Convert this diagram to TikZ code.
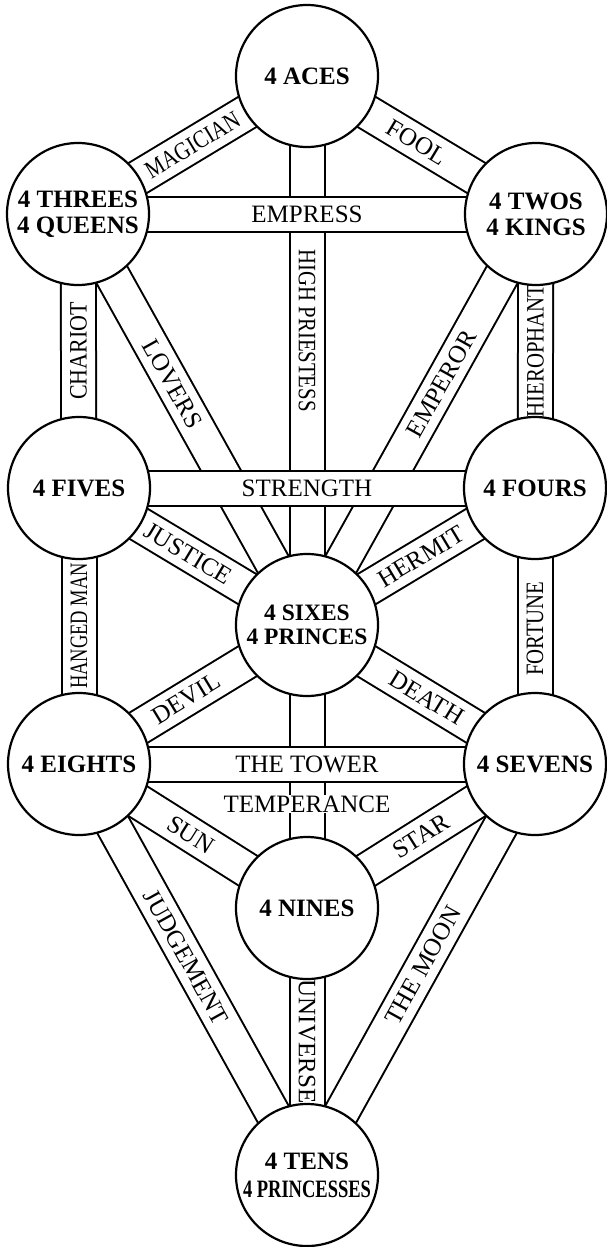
\documentclass[tikz,border=0pt]{standalone}
\usepackage{fontspec}
\setmainfont{Liberation Serif}
\newfontfamily\condA[FakeStretch=0.74]{Liberation Serif}
\newfontfamily\condB[FakeStretch=0.83]{Liberation Serif}
\newfontfamily\condC[FakeStretch=0.88]{Liberation Serif}
\usetikzlibrary{calc}
\pgfdeclarelayer{bg}
\pgfsetlayers{bg,main}
\begin{document}
\begin{tikzpicture}[x=1pt,y=-1pt,
  sephira/.style={circle, draw, line width=2.2pt, fill=white, minimum size=142pt,
    inner sep=0pt, align=center, font=\fontsize{25}{26}\selectfont\bfseries},
  bandout/.style={line width=37pt, black},
  bandin/.style={line width=33pt, white},
  lbl/.style={inner sep=0pt, font=\fontsize{25}{25}\selectfont},
]
\useasboundingbox (0,0) rectangle (606,1247);

\node[sephira] (aces)   at (307,76)   {4 ACES};
\node[sephira] (threes) at (78,214)   {4 THREES\\4 QUEENS};
\node[sephira] (twos)   at (536,214)  {4 TWOS\\4 KINGS};
\node[sephira] (fives)  at (79,488)   {4 FIVES};
\node[sephira] (fours)  at (535,488)  {4 FOURS};
\node[sephira, font=\fontsize{23.5}{24}\selectfont\bfseries] (sixes) at (307,625) {4 SIXES\\4 PRINCES};
\node[sephira] (eights) at (79,764)   {4 EIGHTS};
\node[sephira] (sevens) at (535,764)  {4 SEVENS};
\node[sephira] (nines)  at (307,908)  {4 NINES};
\node[sephira, font=\fontsize{25}{28}\selectfont\bfseries] (tens) at (307,1175) {4 TENS\\{\condA\bfseries 4 PRINCESSES}};

\newcommand\band[2]{%
  \draw[bandout] (#1.center) -- (#2.center);
  \draw[bandin] (#1.center) -- (#2.center);}

\begin{pgfonlayer}{bg}
\band{threes}{aces}
\band{aces}{twos}
\band{threes}{fives}
\band{twos}{fours}
\band{threes}{sixes}
\band{aces}{sixes}
\band{twos}{sixes}
\band{fives}{sixes}
\band{fours}{sixes}
\band{fives}{eights}
\band{fours}{sevens}
\band{eights}{sixes}
\band{sixes}{sevens}
\band{sixes}{nines}
\band{eights}{nines}
\band{sevens}{nines}
\band{eights}{tens}
\band{sevens}{tens}
\band{nines}{tens}
\band{threes}{twos}
\band{fives}{fours}
\band{eights}{sevens}
\end{pgfonlayer}

\path (threes.center) -- (aces.center) node[lbl, pos=0.5, sloped] {\condB MAGICIAN};
\path (aces.center) -- (twos.center) node[lbl, pos=0.48, sloped] {FOOL};
\path (threes.center) -- (twos.center) node[lbl, pos=0.5] {EMPRESS};
\path (aces.center) -- (sixes.center) node[lbl, pos=0.464, rotate=-90] {\condB HIGH PRIESTESS};
\path (threes.center) -- (fives.center) node[lbl, pos=0.5, rotate=90] {\condC CHARIOT};
\path (twos.center) -- (fours.center) node[lbl, pos=0.5, rotate=90] {\condB HIEROPHANT};
\path (threes.center) -- (sixes.center) node[lbl, pos=0.413, sloped] {LOVERS};
\path (twos.center) -- (sixes.center) node[lbl, pos=0.413, sloped] {EMPEROR};
\path (fives.center) -- (fours.center) node[lbl, pos=0.5] {STRENGTH};
\path (fives.center) -- (sixes.center) node[lbl, pos=0.48, sloped] {JUSTICE};
\path (fours.center) -- (sixes.center) node[lbl, pos=0.5, sloped] {HERMIT};
\path (fives.center) -- (eights.center) node[lbl, pos=0.5, rotate=90] {\condA HANGED MAN};
\path (fours.center) -- (sevens.center) node[lbl, pos=0.51, rotate=90] {\condB FORTUNE};
\path (eights.center) -- (sixes.center) node[lbl, pos=0.47, sloped] {DEVIL};
\path (sixes.center) -- (sevens.center) node[lbl, pos=0.525, sloped] {DEATH};
\path (eights.center) -- (sevens.center) node[lbl, pos=0.5] {THE TOWER};
\path (sixes.center) -- (nines.center) node[lbl, pos=0.632, fill=white, inner sep=0.5pt] {TEMPERANCE};
\path (eights.center) -- (nines.center) node[lbl, pos=0.49, sloped] {SUN};
\path (sevens.center) -- (nines.center) node[lbl, pos=0.5, sloped] {STAR};
\path (eights.center) -- (tens.center) node[lbl, pos=0.47, sloped] {JUDGEMENT};
\path (sevens.center) -- (tens.center) node[lbl, pos=0.49, sloped] {THE MOON};
\path (nines.center) -- (tens.center) node[lbl, pos=0.5, rotate=-90] {UNIVERSE};
\end{tikzpicture}
\end{document}
